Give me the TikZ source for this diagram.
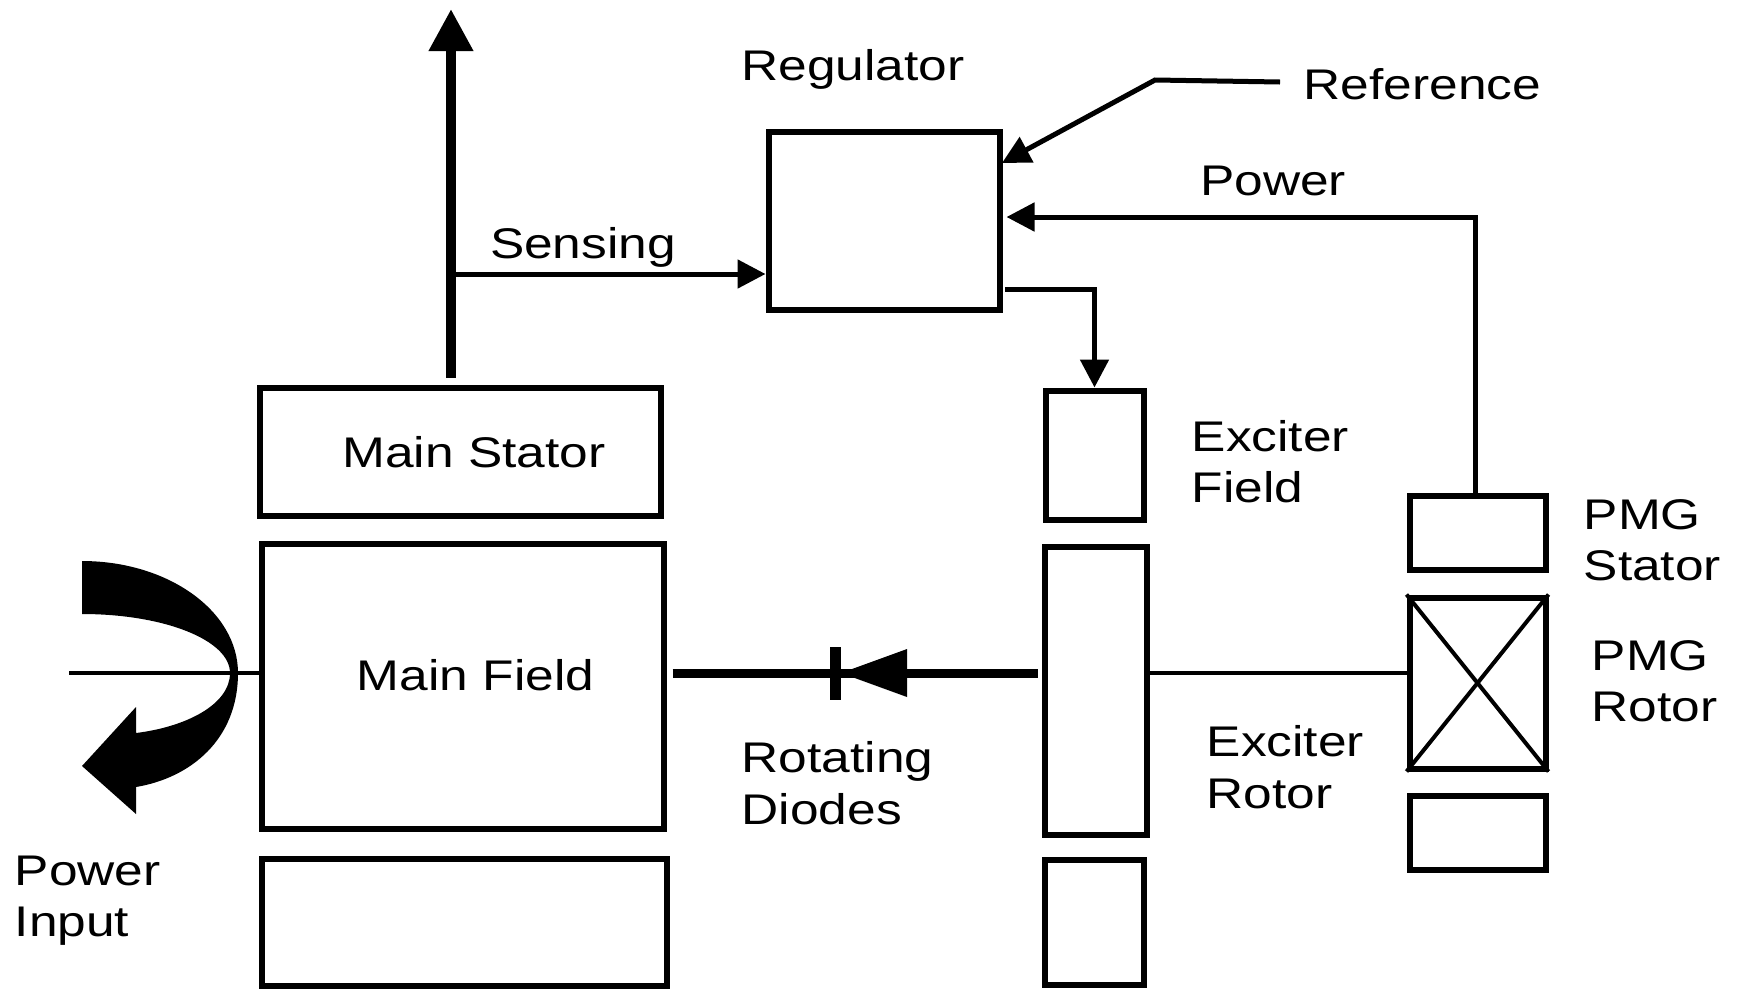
\documentclass[tikz,border=0pt]{standalone}
\usepackage{fontspec}
\setmainfont[FakeStretch=1.2]{Liberation Sans}
\usetikzlibrary{arrows.meta}

\tikzset{
  blk/.style 2 args={draw, line width=0.6mm, inner sep=0pt, minimum width=#1*0.1mm, minimum height=#2*0.1mm},
  lbl/.style={inner sep=0pt, font=\fontsize{12.2}{14.6}\selectfont, align=left},
  sig/.style={line width=0.5mm, -{Triangle[length=2.8mm,width=2.8mm]}},
  bigarrow/.style={line width=1mm, -{Triangle[length=4.2mm,width=4.2mm]}},
  shaftline/.style={line width=0.45mm}
}

\begin{document}
\begin{tikzpicture}[x=0.1mm, y=-0.1mm]
  \useasboundingbox (0,0) rectangle (1740,989);

  \node[blk={231}{178}] (reg) at (884,221) {};
  \node[blk={401}{128}] (mstat) at (460,451.5) {};
  \node[blk={402}{285}] (mfld) at (462.5,686) {};
  \node[blk={405}{127}] (mbot) at (464,922) {};
  \node[blk={98}{129}] (exfld) at (1094.5,455) {};
  \node[blk={102}{288}] (exrot) at (1095.5,690.5) {};
  \node[blk={99}{125}] (exbot) at (1094.5,922.75) {};
  \node[blk={136}{74}] (pmgs) at (1477.5,532.5) {};
  \node[blk={136}{171}] (pmgr) at (1477.5,683) {};
  \node[blk={136}{74}] (pmgb) at (1477.5,832.5) {};

  \node[lbl, anchor=base] (lreg) at (853,80) {Regulator};
  \node[lbl, anchor=base west] (lref) at (1303,99) {Reference};
  \node[lbl, anchor=base] (lpwr) at (1273,195) {Power};
  \node[lbl, anchor=base] (lsens) at (583,258) {Sensing};
  \node[lbl, anchor=base] (lmstat) at (474,467) {Main Stator};
  \node[lbl, anchor=base] (lmfld) at (475.5,690) {Main Field};
  \node[lbl, anchor=west] (lexfld) at (1191,461.5) {Exciter\\Field};
  \node[lbl, anchor=west] (lpmgs) at (1583,540.5) {PMG\\Stator};
  \node[lbl, anchor=west] (lpmgr) at (1591,681) {PMG\\Rotor};
  \node[lbl, anchor=west] (lexrot) at (1206,767) {Exciter\\Rotor};
  \node[lbl, anchor=west] (ldiode) at (741,783) {Rotating\\Diodes};
  \node[lbl, anchor=west] (linput) at (14,901) {Power\\Input};

  \coordinate (out) at (451,9);
  \coordinate (sens) at (451,274);
  \coordinate (pwr) at (1475,217);
  \coordinate (refend) at (1280,82);
  \coordinate (refknee) at (1155,80);
  \coordinate (refin) at (1002,163);
  \coordinate (regout) at (1005,289);
  \coordinate (shaft) at (0,673);
  \coordinate (shaftin) at (69,673);
  \coordinate (diode) at (841,673);

  \draw[bigarrow, shorten <=0.7mm] (mstat.north -| out) -- (out);
  \draw[sig] (sens) -- (reg.west |- sens);
  \draw[sig, shorten >=0.4mm] (pwr |- pmgs.north) -- (pwr) -- (reg.east |- pwr);
  \draw[sig] (refend) -- (refknee) -- (refin);
  \draw[sig] (regout) -| (exfld.north);

  \draw[line width=0.9mm, shorten <=0.6mm, shorten >=0.4mm] (mfld.east |- shaft) -- (exrot.west |- shaft);
  \fill (diode) -- (907,649) -- (907,697) -- cycle;
  \draw[line width=1.1mm] (835.5,647) -- (835.5,700);

  \draw[shaftline] (shaftin) -- (mfld.west |- shaft);
  \draw[shaftline] (exrot.east |- shaft) -- (pmgr.west |- shaft);

  \draw[line width=0.4mm] (pmgr.north west) -- (pmgr.south east);
  \draw[line width=0.4mm] (pmgr.north east) -- (pmgr.south west);

  \fill (82,561) .. controls (168,561) and (238,611) .. (238,673)
    .. controls (238,740) and (190,778) .. (136,787)
    -- (136,814) -- (82,766) -- (136,707) -- (136,733)
    .. controls (185,727) and (230,705) .. (230,673)
    .. controls (230,640) and (164,614) .. (82,614) -- cycle;
\end{tikzpicture}
\end{document}
